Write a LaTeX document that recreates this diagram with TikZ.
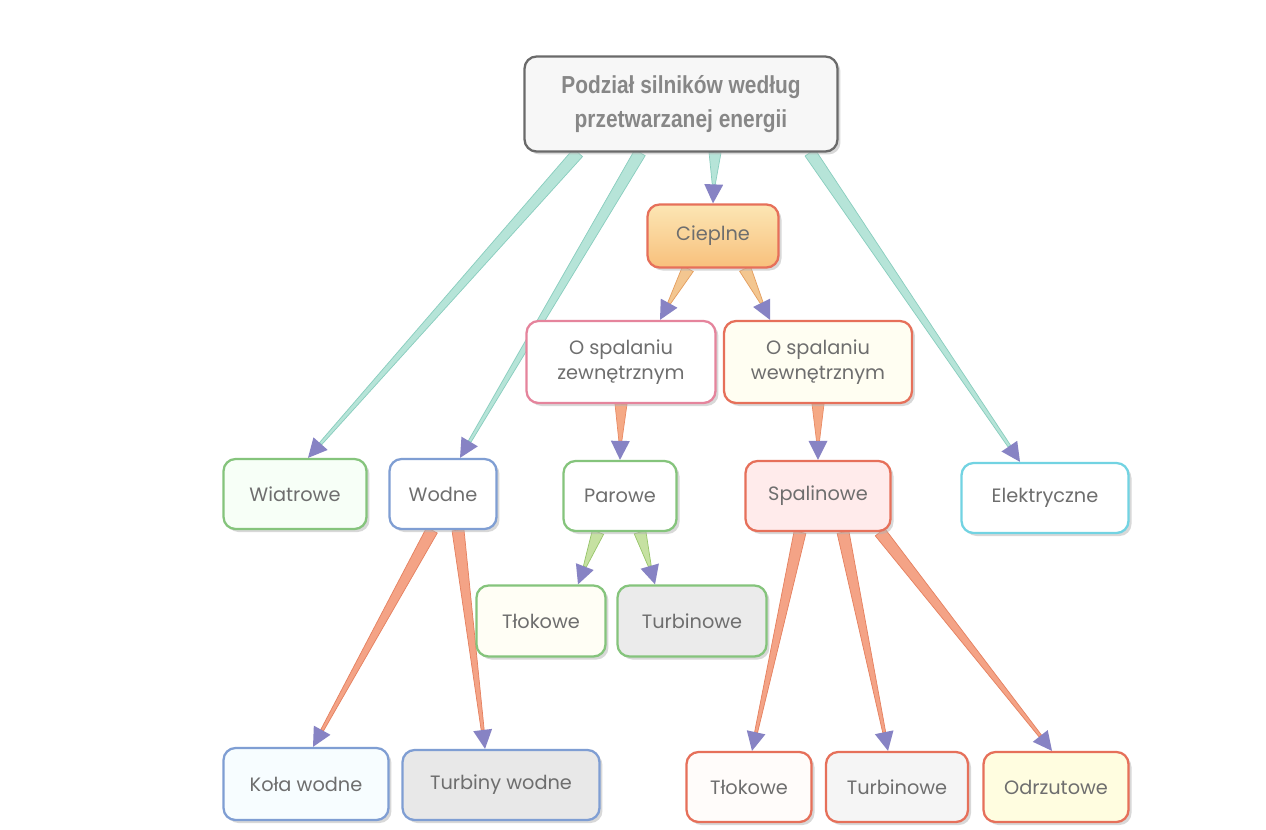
\documentclass[tikz,border=0pt]{standalone}
\usepackage{fontspec}
\setmainfont{Poppins}
\newfontfamily\titlefont[FakeStretch=0.85]{Liberation Sans}
\usetikzlibrary{calc}
\usetikzlibrary{shadows}
\usetikzlibrary{backgrounds}
\definecolor{txt}{HTML}{6E6E6E}
\definecolor{titleD}{HTML}{6A6A6A}
\definecolor{titleF}{HTML}{F7F7F7}
\definecolor{titleT}{HTML}{878787}
\definecolor{redD}{HTML}{E6705A}
\definecolor{pinkD}{HTML}{E5849C}
\definecolor{greenD}{HTML}{85C47C}
\definecolor{blueD}{HTML}{7F9ED3}
\definecolor{cyanD}{HTML}{72D3E2}
\definecolor{cieplT}{HTML}{FCE6B4}
\definecolor{cieplB}{HTML}{F8C07C}
\definecolor{headC}{HTML}{8783C4}
\definecolor{tealF}{HTML}{B6E4D8}
\definecolor{tealD}{HTML}{88CDBE}
\definecolor{orngF}{HTML}{F3C690}
\definecolor{orngD}{HTML}{E49D5E}
\definecolor{salmF}{HTML}{F5A985}
\definecolor{salmD}{HTML}{E98A64}
\definecolor{grnF}{HTML}{C6E1A2}
\definecolor{grnD}{HTML}{97C56A}
\definecolor{redF}{HTML}{F4A386}
\definecolor{redE}{HTML}{E5805F}
\tikzset{box/.style = {draw, rounded corners=0.24cm, line width=1.3pt, minimum height=1.4cm,
                       align=center, text=txt, font=\fontsize{11}{14}\selectfont,
                       drop shadow={shadow xshift=0.06cm, shadow yshift=-0.06cm, fill=black!30, opacity=0.5}}}
\tikzset{teal/.style = {fill=tealF, draw=tealD, line width=0.4pt}}
\tikzset{orng/.style = {fill=orngF, draw=orngD, line width=0.4pt}}
\tikzset{salm/.style = {fill=salmF, draw=salmD, line width=0.4pt}}
\tikzset{grn/.style = {fill=grnF, draw=grnD, line width=0.4pt}}
\tikzset{redband/.style = {fill=redF, draw=redE, line width=0.4pt}}
% tapered band with a triangular head
\newcommand\flow[3]{%
  \path (#1) coordinate (fa) (#2) coordinate (fb) ($(fb)!0.38cm!(fa)$) coordinate (fc);
  \filldraw[#3] ($(fa)!0.12cm!90:(fb)$) -- ($(fc)!0.03cm!-90:(fa)$)
    -- ($(fc)!0.03cm!90:(fa)$) -- ($(fa)!0.12cm!-90:(fb)$) -- cycle;
  \fill[headC] (fb) -- ($(fc)!0.19cm!90:(fa)$) -- ($(fc)!0.19cm!-90:(fa)$) -- cycle;}

\begin{document}
\begin{tikzpicture}[x=0.02cm, y=-0.02cm]
  \useasboundingbox (0,0) rectangle (1266,829);
  \node [box, draw=titleD, fill=titleF, minimum width=6.26cm, minimum height=1.9cm, text=titleT,
         font=\titlefont\bfseries\fontsize{14}{19}\selectfont] (title) at (681,104)
        {Podział silników według\\przetwarzanej energii};
  \node [box, draw=redD, top color=cieplT, bottom color=cieplB, minimum width=2.62cm, minimum height=1.26cm] (cieplne) at (713,236) {Cieplne};
  \node [box, draw=pinkD, fill=white, minimum width=3.78cm, minimum height=1.64cm] (zewn) at (621,362) {O spalaniu\\zewnętrznym};
  \node [box, draw=redD, fill=white!95!yellow, minimum width=3.76cm, minimum height=1.64cm] (wewn) at (818,362) {O spalaniu\\wewnętrznym};
  \node [box, draw=greenD, fill=white!97!green, minimum width=2.86cm] (wiatr) at (295,494) {Wiatrowe};
  \node [box, draw=blueD, fill=white, minimum width=2.14cm] (wodne) at (443,494) {Wodne};
  \node [box, draw=greenD, fill=white, minimum width=2.26cm] (parowe) at (620,496) {Parowe};
  \node [box, draw=redD, fill=red!8, minimum width=2.9cm] (spal) at (818,496) {Spalinowe};
  \node [box, draw=cyanD, fill=white, minimum width=3.34cm] (elek) at (1045,498) {Elektryczne};
  \node [box, draw=greenD, fill=white!96!yellow, minimum width=2.58cm, minimum height=1.42cm] (tlokA) at (541,621) {Tłokowe};
  \node [box, draw=greenD, fill=black!8, minimum width=2.98cm, minimum height=1.42cm] (turbA) at (692,621) {Turbinowe};
  \node [box, draw=blueD, fill=white!97!cyan, minimum width=3.3cm, minimum height=1.44cm] (kola) at (306,784) {Koła wodne};
  \node [box, draw=blueD, fill=black!9, minimum width=3.94cm] (turbW) at (501,785) {Turbiny wodne};
  \node [box, draw=redD, fill=white!98!orange, minimum width=2.5cm] (tlokB) at (749,787) {Tłokowe};
  \node [box, draw=redD, fill=black!4, minimum width=2.84cm] (turbB) at (897,787) {Turbinowe};
  \node [box, draw=redD, fill=white!88!yellow, minimum width=2.9cm] (odrz) at (1056,787) {Odrzutowe};

  \begin{scope}[on background layer]
    \fill[white] (0,0) rectangle (1266,829);
    \flow{[xshift=-2.06cm]title.south}{[xshift=0.26cm]wiatr.north}{teal}
    \flow{[xshift=-0.82cm]title.south}{[xshift=0.34cm]wodne.north}{teal}
    \flow{[xshift=0.68cm]title.south}{cieplne.north}{teal}
    \flow{[xshift=2.58cm]title.south}{[xshift=-0.5cm]elek.north}{teal}
    \flow{[xshift=-0.5cm]cieplne.south}{[xshift=0.78cm]zewn.north}{orng}
    \flow{[xshift=0.64cm]cieplne.south}{[xshift=-0.96cm]wewn.north}{orng}
    \flow{zewn.south}{parowe.north}{salm}
    \flow{wewn.south}{spal.north}{salm}
    \flow{[xshift=-0.44cm]parowe.south}{[xshift=0.74cm]tlokA.north}{grn}
    \flow{[xshift=0.4cm]parowe.south}{[xshift=-0.74cm]turbA.north}{grn}
    \flow{[xshift=-0.22cm]wodne.south}{[xshift=0.14cm]kola.north}{redband}
    \flow{[xshift=0.3cm]wodne.south}{[xshift=-0.32cm]turbW.north}{redband}
    \flow{[xshift=-0.36cm]spal.south}{[xshift=0.06cm]tlokB.north}{redband}
    \flow{[xshift=0.5cm]spal.south}{[xshift=-0.18cm]turbB.north}{redband}
    \flow{[xshift=1.24cm]spal.south}{[xshift=-0.08cm]odrz.north}{redband}
  \end{scope}
\end{tikzpicture}
\end{document}
